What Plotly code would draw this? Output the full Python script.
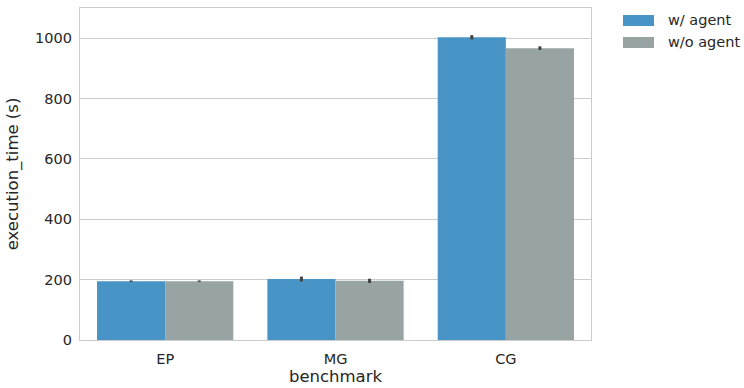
import plotly.graph_objects as go

# Mean execution time per benchmark, with and without the agent
benchmarks = ["EP", "MG", "CG"]
with_agent = [195, 202, 1003]
without_agent = [195, 196, 967]
# Half-width of the confidence interval around each mean
with_agent_ci = [2.5, 8, 7]
without_agent_ci = [2.5, 7, 6]

series_names = ["w/ agent", "w/o agent"]
series_colors = ["#4894c7", "#98a3a4"]
y_ticks = [0, 200, 400, 600, 800, 1000]

font_family = "DejaVu Sans, Liberation Sans, sans-serif"
text_color = "#262626"

fig = go.Figure()
for name, vals, ci, color in zip(series_names, [with_agent, without_agent],
                                 [with_agent_ci, without_agent_ci], series_colors):
    fig.add_trace(go.Bar(
        x=benchmarks, y=vals, name=name,
        marker=dict(color=color, line=dict(width=0)),
        error_y=dict(type="data", array=ci, visible=True,
                     color="#424242", thickness=3, width=0),
        showlegend=False,
    ))

# Legend drawn as wide colour patches with labels, outside the plot on the right
legend_rows = [(0.9789, 0.9458), (0.9127, 0.8795)]
for (y1, y0), name, color in zip(legend_rows, series_names, series_colors):
    fig.add_shape(type="rect", xref="paper", yref="paper",
                  x0=1.0626, x1=1.1233, y0=y0, y1=y1,
                  fillcolor=color, line=dict(width=0))
    fig.add_annotation(xref="paper", yref="paper", x=1.1468, y=(y0 + y1) / 2,
                       text=name, showarrow=False, xanchor="left", yanchor="middle",
                       font=dict(size=14.5, color=text_color))

fig.update_layout(
    width=744, height=388,
    margin=dict(l=80, r=153, t=8, b=48),
    barmode="group", bargap=0.2, bargroupgap=0,
    plot_bgcolor="white", paper_bgcolor="white",
    font=dict(family=font_family, size=14.5, color=text_color),
    showlegend=False,
    xaxis=dict(
        title=dict(text="benchmark", font=dict(size=16.5), standoff=4),
        range=[-0.5, 2.5], showgrid=False, zeroline=False,
        showline=True, linecolor="#cccccc", linewidth=1.3, mirror=True,
        ticks="", tickfont=dict(size=14.5), ticklabelstandoff=5,
        automargin=False,
    ),
    yaxis=dict(
        title=dict(text="execution_time (s)", font=dict(size=16.5), standoff=12),
        range=[0, 1100], tickvals=y_ticks,
        showgrid=True, gridcolor="#cccccc", gridwidth=1.2, zeroline=False,
        showline=True, linecolor="#cccccc", linewidth=1.3, mirror=True,
        ticks="", tickfont=dict(size=14.5), ticklabelstandoff=4,
        automargin=False,
    ),
)

fig.write_html("out.html")
